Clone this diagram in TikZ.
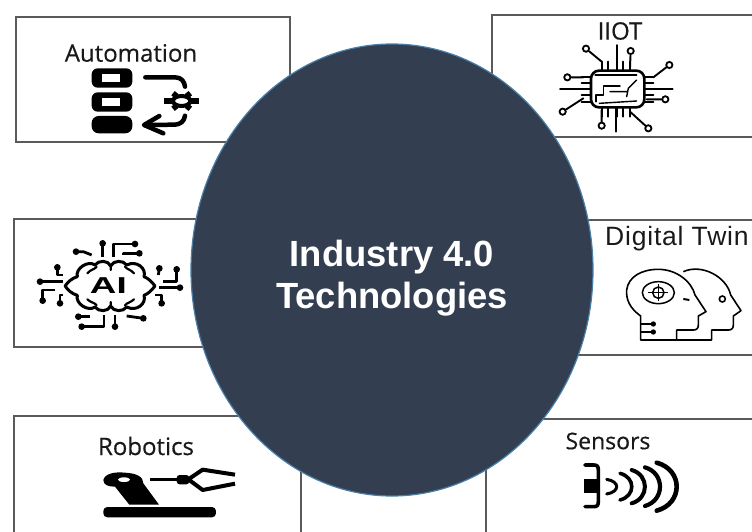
\documentclass[tikz,border=0pt]{standalone}
\usepackage{graphicx}
\usepackage{fontspec}
\setmainfont[FakeBold=0.5]{Open Sans}
\newfontfamily\arialfont{Liberation Sans}
\newfontfamily\twinfont[LetterSpace=3]{Liberation Sans}
\usetikzlibrary{arrows,positioning}
\definecolor{myslate}{HTML}{333F50}
\definecolor{myrim}{HTML}{4A7FA8}
\definecolor{myline}{HTML}{5A5A5A}
\tikzstyle{panel} = [draw=myline,line width=1.3pt]
\tikzstyle{title} = [text=black!90,font=\fontsize{24}{24}\selectfont,inner sep=0pt]
\tikzstyle{ink} = [line width=1.9pt,line cap=round,line join=round]
\tikzstyle{fat} = [line width=4.5pt,line cap=round,line join=round]
\tikzstyle{pad} = [draw,line width=1.8pt,fill=white,circle,inner sep=2.2pt]
\tikzstyle{headline} = [text=white,inner sep=0pt,anchor=base,font=\arialfont\fontsize{36.4}{36.4}\selectfont\bfseries]

\begin{document}
\begin{tikzpicture}[x=1pt,y=-1pt]
    \useasboundingbox (0,0) rectangle (752,532);
    \clip (0,0) rectangle (752,532); % right and lower panels run off the page

    % panels
    \draw[panel] (16,17) rectangle (290,142);
    \draw[panel] (770,15) -- (492,15) -- (492,137) -- (770,137);
    \draw[panel] (300,219) -- (14,219) -- (14,347) -- (300,347);
    \draw[panel] (500,220) -- (770,220);
    \draw[panel] (500,355) -- (770,355);
    \draw[panel] (14,540) -- (14,416) -- (301,416) -- (301,540);
    \draw[panel] (486,540) -- (486,419) -- (770,419);

    % labels
    \node[title] (automation) at (131,53) {Automation};
    \node[title] (iiot) at (620,31) {IIOT};
    \node[title] (robotics) at (146,446) {Robotics};
    \node[title,font=\fontsize{23}{23}\selectfont] (sensors) at (608,441) {Sensors};
    \node[anchor=west,inner sep=0pt,text=black!90] (twin) at (605,239)
        {\twinfont\fontsize{26.5}{26.5}\selectfont Digital Twin};

    % automation icon
    \begin{scope}[shift={(0,0)},scale=1/3]
      \foreach \y in {205,277} {
        \fill[rounded corners=6pt] (275,\y) rectangle (397,\y+58);
        \fill[white] (305,\y+17) rectangle (360,\y+40);
      }
      \fill[rounded corners=7pt] (275,348) rectangle (397,400);
      \draw[fat] (436,232) -- (525,232) .. controls (545,232) and (553,245) .. (555,260);
      \draw[fat] (555,347) .. controls (553,365) and (540,373) .. (525,374) -- (440,375);
      \draw[fat] (478,348) -- (432,375) -- (490,400);
      \draw[line width=4pt] (545,303) ellipse (26 and 15);
      \foreach \a in {0,60,...,300} {
        \draw[line width=5.5pt] (545,303) ++(\a:28 and 16) -- ++(\a:24 and 11);
      }
    \end{scope}

    % iiot icon
    \begin{scope}[shift={(480,0)},scale=1/3]
      \draw[line width=2.6pt,rounded corners=8pt] (333,212) rectangle (493,322);
      \draw[ink,line width=1.2pt] (345,225) -- (470,225);
      \draw[ink,line width=1.4pt] (348,305) -- (348,285) -- (370,285) -- (370,258) -- (420,258);
      \draw[ink,line width=1.4pt] (358,310) -- (470,303) (390,275) -- (440,275) (440,290) -- (445,265) -- (470,240);
      % pins
      \foreach \x in {365,385,410,430,450} {
        \draw[ink] (\x,212) -- (\x,185);
        \draw[ink] (\x,322) -- (\x,350);
      }
      \foreach \y in {232,250,285,305} {
        \draw[ink] (333,\y) -- (305,\y);
        \draw[ink] (493,\y) -- (520,\y);
      }
      \draw[ink] (240,267) -- (333,267);
      \draw[ink] (493,267) -- (578,267);
      \draw[ink] (410,185) -- (410,135);
      \draw[ink] (408,322) -- (408,395);
      % pads
      \node[pad] (pada) at (318,146) {};
      \node[pad] (padb) at (452,153) {};
      \node[pad] (padc) at (568,195) {};
      \node[pad] (padd) at (262,232) {};
      \node[pad] (pade) at (556,298) {};
      \node[pad] (padf) at (248,335) {};
      \node[pad] (padg) at (365,377) {};
      \node[pad] (padh) at (505,385) {};
      \draw[ink] (pada) -- (365,185);
      \draw[ink] (padb) -- (450,205);
      \draw[ink] (padc) -- (520,232);
      \draw[ink] (padd) -- (310,232);
      \draw[ink] (pade) -- (500,298);
      \draw[ink] (padf) -- (310,295);
      \draw[ink] (padg) -- (365,330);
      \draw[ink] (padh) -- (450,335);
    \end{scope}

    % ai icon
    \begin{scope}[shift={(0,210)},scale=1/3]
      \draw[line width=3pt,line join=round] (195,228)
        .. controls (205,215) and (215,205) .. (232,200)
        .. controls (225,175) and (265,150) .. (285,165)
        .. controls (295,150) and (325,150) .. (332,168)
        .. controls (340,150) and (370,150) .. (380,165)
        .. controls (410,150) and (440,175) .. (432,200)
        .. controls (445,205) and (455,215) .. (465,228)
        .. controls (455,241) and (445,251) .. (432,256)
        .. controls (440,281) and (410,306) .. (380,291)
        .. controls (370,306) and (340,306) .. (332,288)
        .. controls (325,306) and (295,306) .. (285,291)
        .. controls (265,306) and (225,281) .. (232,256)
        .. controls (215,251) and (205,241) .. (195,228) -- cycle;
      \draw[line width=2.2pt,line cap=round] (332,168) -- (332,180) (332,288) -- (332,276)
        (262,190) .. controls (272,178) and (285,178) .. (290,170)
        (402,190) .. controls (392,178) and (380,178) .. (375,170)
        (262,268) .. controls (272,278) and (285,278) .. (290,286)
        (402,268) .. controls (392,278) and (380,278) .. (375,286);
      \node[inner sep=0pt,font=\arialfont\fontsize{23}{23}\selectfont\bfseries] (ai) at (325,226) {\scalebox{1.6}[1]{AI}};
      % traces, ends in dots
      \foreach \ax/\ay/\bx/\by/\cx/\cy in {
        275/135/250/125/228/125, 308/140/308/100/308/100,
        340/140/340/102/405/102, 370/135/370/130/418/130,
        190/195/172/195/172/172, 190/215/120/215/120/215,
        165/240/128/240/128/272, 190/255/180/255/180/280,
        475/195/478/175/478/175, 490/215/530/215/530/178,
        478/233/540/233/540/233, 465/255/485/255/485/280,
        270/320/235/320/235/320, 312/315/312/350/245/350,
        345/315/345/350/345/350, 380/318/430/325/430/325} {
        \draw[line width=2.8pt,line join=round] (\ax,\ay) -- (\bx,\by) -- (\cx,\cy);
        \fill (\cx,\cy) circle (10);
      }
    \end{scope}

    % digital twin icon
    \begin{scope}[shift={(570,210)},scale=1/3]
      \draw[line width=1.6pt,line join=round] (212,390) -- (212,318)
        .. controls (180,295) and (168,270) .. (170,240)
        .. controls (175,200) and (215,178) .. (265,178)
        .. controls (320,178) and (365,215) .. (375,255)
        -- (408,305) -- (385,318) -- (385,345)
        .. controls (385,355) and (380,360) .. (370,360)
        -- (320,360) -- (320,390) -- cycle;
      \draw[line width=1.6pt,line join=round] (340,185)
        .. controls (395,160) and (470,200) .. (482,255)
        -- (513,302) -- (490,318) -- (490,345)
        .. controls (490,355) and (485,360) .. (475,360)
        -- (425,360) -- (425,390) -- (320,390);
      \draw[line width=1.5pt] (265,248) ellipse (48 and 33);
      \draw[line width=1.5pt] (265,248) circle (17);
      \draw[line width=1.2pt] (265,222) -- (265,274) (235,248) -- (295,248);
      \draw[line width=2pt] (340,267) -- (358,270);
      \draw[line width=1.6pt] (457,267) circle (9);
      \foreach \y in {342,366} {
        \draw[line width=1.4pt] (212,\y) -- (245,\y);
        \fill (250,\y) circle (8);
      }
    \end{scope}

    % robotics icon
    \begin{scope}[shift={(0,405)},scale=1/3]
      \fill[rounded corners=4pt] (310,337) rectangle (648,306);
      \fill (310,225) .. controls (315,205) and (345,200) .. (375,203)
        .. controls (410,205) and (430,215) .. (430,235)
        -- (477,299) -- (388,299) -- (345,245)
        .. controls (325,245) and (310,240) .. (310,225) -- cycle;
      \fill[white] (372,224) ellipse (18 and 7);
      \draw[line width=3pt] (450,223) -- (535,223);
      \fill[rounded corners=3pt] (530,210) rectangle (568,238);
      \draw[line width=4pt,line join=round] (705,209) -- (608,194) -- (565,223) -- (608,255) -- (705,236);
    \end{scope}

    % sensors icon
    \begin{scope}[shift={(470,405)},scale=1/3]
      \draw[line width=3.6pt,line cap=round] (345,180) -- (372,180)
        .. controls (382,180) and (385,185) .. (385,195) -- (385,290)
        .. controls (385,300) and (382,305) .. (372,305) -- (345,305);
      \fill (342,222) rectangle (385,265);
      \foreach \x/\c/\h/\w in {410/450/22/3,450/497/40/3.6,485/538/50/4,525/585/58/4.2,560/640/72/4.6} {
        \draw[line width=\w pt,line cap=round] (\x,245-\h)
          .. controls (\c,245-0.7*\h) and (\c,245+0.7*\h) .. (\x,245+\h);
      }
    \end{scope}

    % centre
    \draw[draw=myrim,line width=1.2pt,fill=myslate] (392,270) ellipse (201 and 226);
    \node[headline] (industry) at (392,266) {Industry 4.0};
    \node[headline] (technologies) at (392,308) {Technologies};
\end{tikzpicture}
\end{document}
